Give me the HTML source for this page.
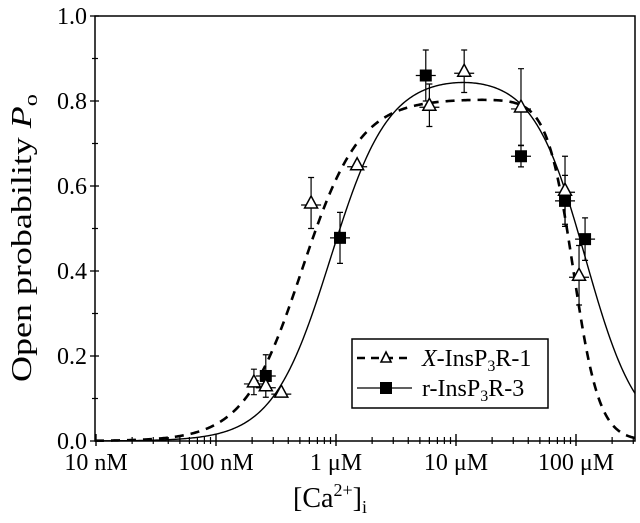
<!DOCTYPE html>
<html><head><meta charset="utf-8"><style>
body{margin:0;background:#fff}
svg text{font-family:"Liberation Serif",serif;fill:#000}
</style></head><body>
<svg id="chart" width="640" height="518" viewBox="0 0 640 518" xmlns="http://www.w3.org/2000/svg">
<rect x="0" y="0" width="640" height="518" fill="#fff"/>
<g id="axes"></g>
<g id="curves"></g>
<g id="points"></g>
<text transform="translate(31,238) rotate(-90)" text-anchor="middle" font-size="28" textLength="288" lengthAdjust="spacingAndGlyphs">Open probability <tspan font-style="italic">P</tspan><tspan font-size="19" dy="6">o</tspan></text>
<text x="330" y="507" text-anchor="middle" font-size="28">[Ca<tspan font-size="18" dy="-11">2+</tspan><tspan dy="11">]</tspan><tspan font-size="18" dy="6">i</tspan></text>
<g>
<rect x="352" y="339" width="196" height="69" fill="#fff" stroke="#000" stroke-width="1.5"/>
<line x1="357" y1="358" x2="412" y2="358" stroke="#000" stroke-width="2.5" stroke-dasharray="8,6"/>
<path d="M386,352 L391,362 L381,362 Z" fill="#fff" stroke="#000" stroke-width="1.6"/>
<text x="422" y="366" font-size="24"><tspan font-style="italic">X</tspan>-InsP<tspan font-size="16" dy="5">3</tspan><tspan dy="-5">R-1</tspan></text>
<line x1="357" y1="388" x2="412" y2="388" stroke="#000" stroke-width="1.3"/>
<rect x="380" y="382" width="12" height="12" fill="#000"/>
<text x="422" y="396" font-size="24">r-InsP<tspan font-size="16" dy="5">3</tspan><tspan dy="-5">R-3</tspan></text>
</g>
</svg>
<script>
// data (concentration in M)
const triConc = [2.07e-7, 2.6e-7, 3.5e-7, 6.2e-7, 1.5e-6, 6.0e-6, 1.17e-5, 3.48e-5, 8.1e-5, 1.06e-4];
const triPo   = [0.139, 0.13, 0.115, 0.56, 0.65, 0.79, 0.87, 0.786, 0.59, 0.39];
const triErr  = [0.03, 0.0, 0.0, 0.06, 0.0, 0.05, 0.05, 0.09, 0.08, 0.07];
const sqConc = [2.6e-7, 1.08e-6, 5.6e-6, 3.48e-5, 8.1e-5, 1.19e-4];
const sqPo   = [0.153, 0.478, 0.86, 0.67, 0.565, 0.475];
const sqErr  = [0.05, 0.06, 0.06, 0.025, 0.06, 0.05];
// fit parameters [Pmax, Ka, na, Ki, ni]
const fitX1 = [0.805, 5.2e-7, 1.8, 9.5e-5, 4.0];
const fitR3 = [0.86, 9.0e-7, 1.8, 1.2e-4, 2.0];
const yTicks = [0, 0.2, 0.4, 0.6, 0.8, 1.0];
const yTickLabels = ["0.0", "0.2", "0.4", "0.6", "0.8", "1.0"];
const xDecades = [-8, -7, -6, -5, -4];
const xTickLabels = ["10 nM", "100 nM", "1 \u03bcM", "10 \u03bcM", "100 \u03bcM"];

const X0 = 96, DEC = 120, Y0 = 441, YS = 425, XL = 95, XR = 635, YT = 16;
const NS = "http://www.w3.org/2000/svg";
const sx = c => X0 + (Math.log10(c) + 8) * DEC;
const sy = p => Y0 - p * YS;
function mk(tag, attrs, parent) {
  const e = document.createElementNS(NS, tag);
  for (const k in attrs) e.setAttribute(k, attrs[k]);
  parent.appendChild(e);
  return e;
}
const axes = document.getElementById('axes');
const frame = mk('rect', {x: XL, y: YT, width: XR - XL, height: Y0 - YT, fill: 'none', stroke: '#000', 'stroke-width': 1.5}, axes);


for (let i = 0; i < yTicks.length; i++) {
  const y = sy(yTicks[i]);
  const t = mk('line', {x1: XL - 5, x2: XL + 4, y1: y, y2: y, stroke: '#000', 'stroke-width': 1.3}, axes);
  
  
  const l = mk('text', {x: XL - 8, y: y + 8, 'text-anchor': 'end', 'font-size': 24}, axes);
  l.textContent = yTickLabels[i];
  
  
  if (i < yTicks.length - 1) {
    const ym = sy(yTicks[i] + 0.1);
    const m = mk('line', {x1: XL - 3, x2: XL + 3, y1: ym, y2: ym, stroke: '#000', 'stroke-width': 1.2}, axes);
    
    
  }
}
for (let i = 0; i < xDecades.length; i++) {
  const x = X0 + (xDecades[i] + 8) * DEC;
  const t = mk('line', {x1: x, x2: x, y1: Y0 - 7, y2: Y0 + 5, stroke: '#000', 'stroke-width': 1.4}, axes);
  
  
  const l = mk('text', {x: x, y: 470, 'text-anchor': 'middle', 'font-size': 24}, axes);
  l.textContent = xTickLabels[i];
  
  
  for (let k = 2; k <= 9; k++) {
    const xm = x + Math.log10(k) * DEC;
    if (xm > XR) break;
    const m = mk('line', {x1: xm, x2: xm, y1: Y0 - 4, y2: Y0 + 3, stroke: '#000', 'stroke-width': 1.2}, axes);
    
    
  }
}
const curves = document.getElementById('curves');
function fitVal(p, c) {
  return p[0] / (1 + Math.pow(p[1] / c, p[2])) / (1 + Math.pow(c / p[3], p[4]));
}
function curvePath(p) {
  let d = '';
  for (let x = XL; x <= XR; x += 1) {
    const c = Math.pow(10, (x - X0) / DEC - 8);
    d += (d ? 'L' : 'M') + x + ',' + sy(fitVal(p, c)).toFixed(2);
  }
  return d;
}
const c1 = mk('path', {d: curvePath(fitX1), fill: 'none', stroke: '#000', 'stroke-width': 2.6, 'stroke-dasharray': '9,7'}, curves);


const c2 = mk('path', {d: curvePath(fitR3), fill: 'none', stroke: '#000', 'stroke-width': 1.4}, curves);


const pts = document.getElementById('points');
function errBar(x, p, e) {
  if (e <= 0) return;
  const g = mk('path', {d: `M${x},${sy(p + e)}V${sy(p - e)}M${x - 3},${sy(p + e)}h6M${x - 3},${sy(p - e)}h6`, stroke: '#000', 'stroke-width': 1.2, fill: 'none'}, pts);
  
  
}
for (let i = 0; i < sqConc.length; i++) {
  const x = sx(sqConc[i]), y = sy(sqPo[i]);
  errBar(x, sqPo[i], sqErr[i]);
  const h = mk('line', {x1: x - 10, x2: x + 10, y1: y, y2: y, stroke: '#000', 'stroke-width': 1.2}, pts);
  
  
  const r = mk('rect', {x: x - 6, y: y - 6, width: 12, height: 12, fill: '#000'}, pts);
  
  
}
for (let i = 0; i < triConc.length; i++) {
  const x = sx(triConc[i]), y = sy(triPo[i]);
  errBar(x, triPo[i], triErr[i]);
  const h = mk('line', {x1: x - 10, x2: x + 10, y1: y + 2, y2: y + 2, stroke: '#000', 'stroke-width': 1.2}, pts);
  
  
  const t = mk('path', {d: `M${x},${y - 7}L${x + 6.5},${y + 5}L${x - 6.5},${y + 5}Z`, fill: '#fff', stroke: '#000', 'stroke-width': 1.5}, pts);
  
  
}
</script>
</body></html>
